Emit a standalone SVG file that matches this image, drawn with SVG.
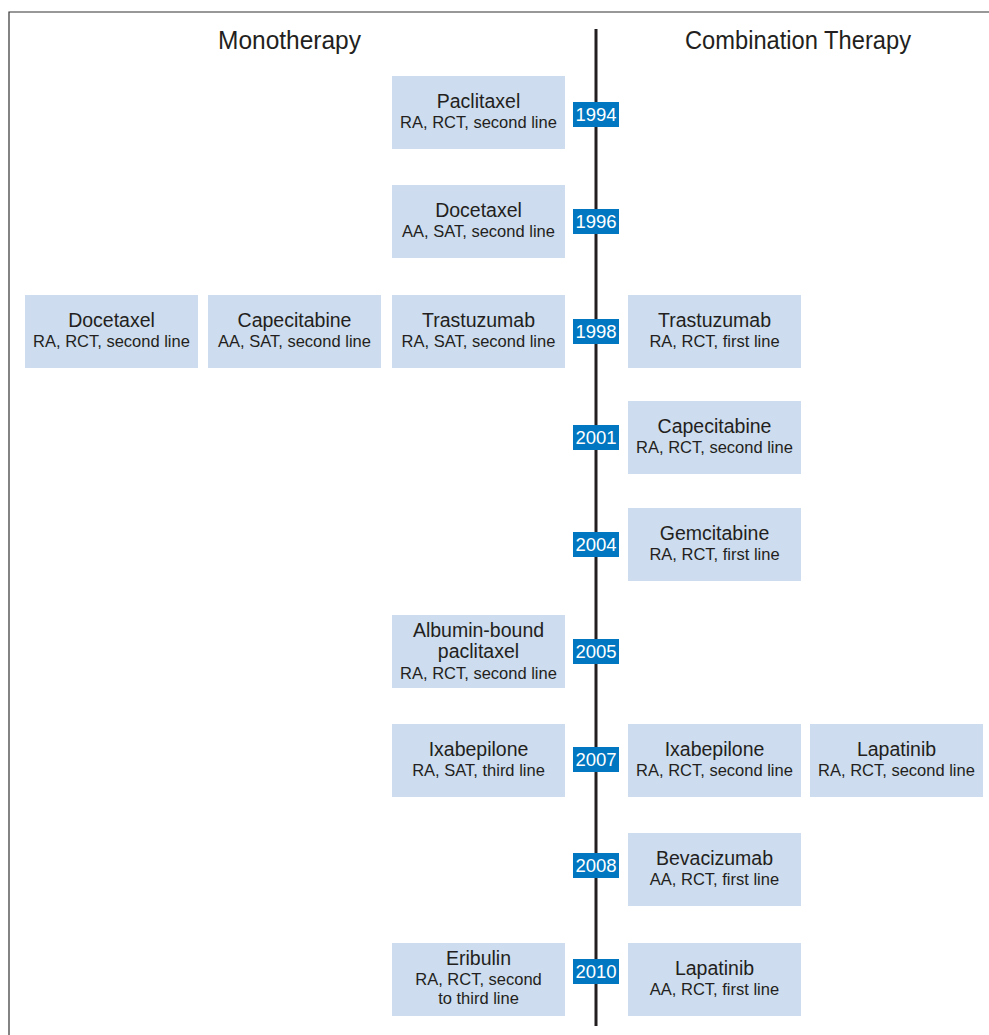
<svg xmlns="http://www.w3.org/2000/svg" width="989" height="1035" viewBox="0 0 989 1035">
<style>
.box{fill:#cddcee}
.t{font-family:"Liberation Sans",Arial,sans-serif;font-size:19.5px;fill:#231f20;text-anchor:middle}
.s{font-family:"Liberation Sans",Arial,sans-serif;font-size:16.5px;fill:#231f20;text-anchor:middle}
.yb{fill:#0077c0}
.y{font-family:"Liberation Sans",Arial,sans-serif;font-size:18.5px;fill:#ffffff;text-anchor:middle}
.h{font-family:"Liberation Sans",Arial,sans-serif;font-size:26px;fill:#231f20;text-anchor:middle}
</style>
<rect width="989" height="1035" fill="#ffffff"/>
<path d="M9,1035 V12 H989" fill="none" stroke="#333333" stroke-width="1.2"/>
<text class="h" x="289.5" y="49" textLength="143" lengthAdjust="spacingAndGlyphs">Monotherapy</text>
<text class="h" x="798" y="49" textLength="226" lengthAdjust="spacingAndGlyphs">Combination Therapy</text>
<g id="connectors">
<line x1="596" y1="29" x2="596" y2="1026" stroke="#231f20" stroke-width="3"/>
</g>
<g id="m1994"><rect class="box" x="392" y="76" width="173" height="73"/><text class="t" x="478.5" y="108">Paclitaxel</text><text class="s" x="478.5" y="128">RA, RCT, second line</text></g>
<g id="m1996"><rect class="box" x="392" y="185" width="173" height="73"/><text class="t" x="478.5" y="217">Docetaxel</text><text class="s" x="478.5" y="237">AA, SAT, second line</text></g>
<g id="m1998a"><rect class="box" x="25" y="295" width="173" height="73"/><text class="t" x="111.5" y="327">Docetaxel</text><text class="s" x="111.5" y="347">RA, RCT, second line</text></g>
<g id="m1998b"><rect class="box" x="208" y="295" width="173" height="73"/><text class="t" x="294.5" y="327">Capecitabine</text><text class="s" x="294.5" y="347">AA, SAT, second line</text></g>
<g id="m1998c"><rect class="box" x="392" y="295" width="173" height="73"/><text class="t" x="478.5" y="327">Trastuzumab</text><text class="s" x="478.5" y="347">RA, SAT, second line</text></g>
<g id="c1998"><rect class="box" x="628" y="295" width="173" height="73"/><text class="t" x="714.5" y="327">Trastuzumab</text><text class="s" x="714.5" y="347">RA, RCT, first line</text></g>
<g id="c2001"><rect class="box" x="628" y="401" width="173" height="73"/><text class="t" x="714.5" y="433">Capecitabine</text><text class="s" x="714.5" y="453">RA, RCT, second line</text></g>
<g id="c2004"><rect class="box" x="628" y="508" width="173" height="73"/><text class="t" x="714.5" y="540">Gemcitabine</text><text class="s" x="714.5" y="560">RA, RCT, first line</text></g>
<g id="m2005"><rect class="box" x="392" y="615" width="173" height="73"/><text class="t" x="478.5" y="637">Albumin-bound</text><text class="t" x="478.5" y="658">paclitaxel</text><text class="s" x="478.5" y="679">RA, RCT, second line</text></g>
<g id="m2007"><rect class="box" x="392" y="724" width="173" height="73"/><text class="t" x="478.5" y="756">Ixabepilone</text><text class="s" x="478.5" y="776">RA, SAT, third line</text></g>
<g id="c2007a"><rect class="box" x="628" y="724" width="173" height="73"/><text class="t" x="714.5" y="756">Ixabepilone</text><text class="s" x="714.5" y="776">RA, RCT, second line</text></g>
<g id="c2007b"><rect class="box" x="810" y="724" width="173" height="73"/><text class="t" x="896.5" y="756">Lapatinib</text><text class="s" x="896.5" y="776">RA, RCT, second line</text></g>
<g id="c2008"><rect class="box" x="628" y="833" width="173" height="73"/><text class="t" x="714.5" y="865">Bevacizumab</text><text class="s" x="714.5" y="885">AA, RCT, first line</text></g>
<g id="m2010"><rect class="box" x="392" y="943" width="173" height="73"/><text class="t" x="478.5" y="965">Eribulin</text><text class="s" x="478.5" y="985">RA, RCT, second</text><text class="s" x="478.5" y="1004">to third line</text></g>
<g id="c2010"><rect class="box" x="628" y="943" width="173" height="73"/><text class="t" x="714.5" y="975">Lapatinib</text><text class="s" x="714.5" y="995">AA, RCT, first line</text></g>
<g id="y1994"><rect class="yb" x="573" y="102" width="46" height="25"/><text class="y" x="596" y="121">1994</text></g>
<g id="y1996"><rect class="yb" x="573" y="209" width="46" height="25"/><text class="y" x="596" y="228">1996</text></g>
<g id="y1998"><rect class="yb" x="573" y="319" width="46" height="25"/><text class="y" x="596" y="338">1998</text></g>
<g id="y2001"><rect class="yb" x="573" y="425" width="46" height="25"/><text class="y" x="596" y="444">2001</text></g>
<g id="y2004"><rect class="yb" x="573" y="532" width="46" height="25"/><text class="y" x="596" y="551">2004</text></g>
<g id="y2005"><rect class="yb" x="573" y="639" width="46" height="25"/><text class="y" x="596" y="658">2005</text></g>
<g id="y2007"><rect class="yb" x="573" y="747" width="46" height="25"/><text class="y" x="596" y="766">2007</text></g>
<g id="y2008"><rect class="yb" x="573" y="853" width="46" height="25"/><text class="y" x="596" y="872">2008</text></g>
<g id="y2010"><rect class="yb" x="573" y="959" width="46" height="25"/><text class="y" x="596" y="978">2010</text></g>
</svg>
